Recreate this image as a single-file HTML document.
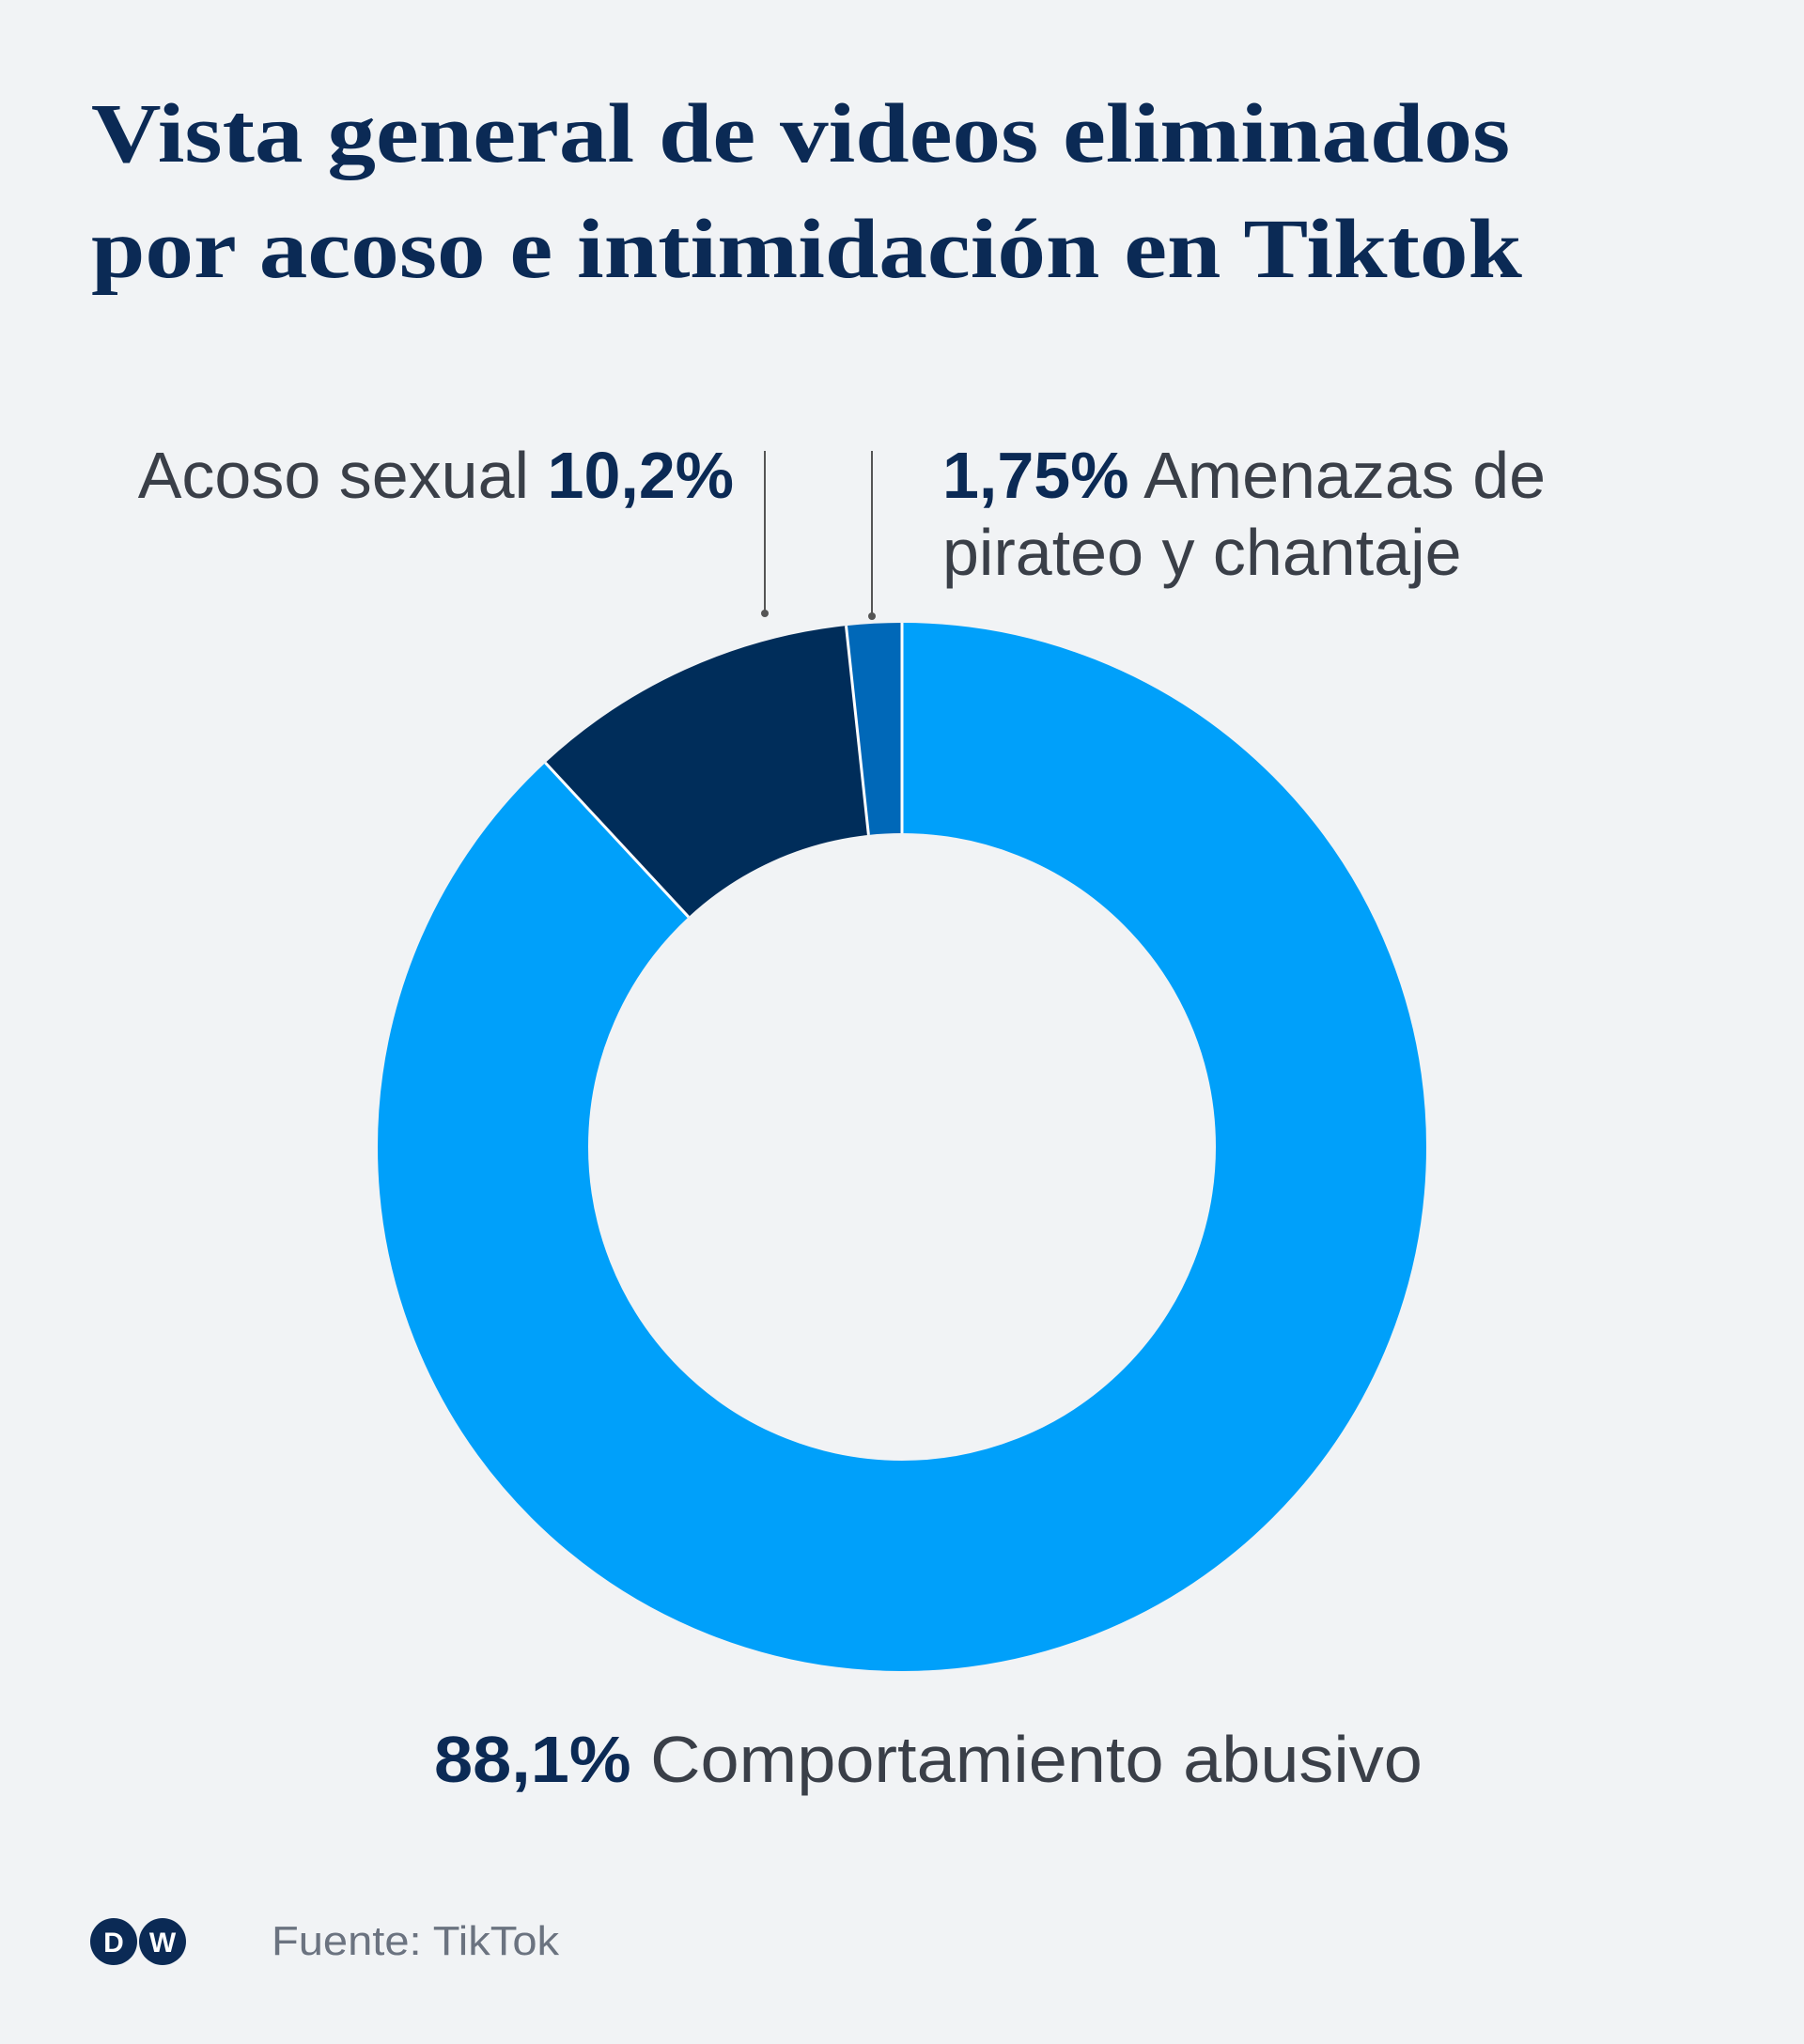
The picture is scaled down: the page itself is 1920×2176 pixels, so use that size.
<!DOCTYPE html>
<html><head><meta charset="utf-8"><style>
html,body{margin:0;padding:0;background:#f1f3f5;}
body{width:1920px;height:2176px;position:relative;overflow:hidden;}
.t{position:absolute;left:97px;font-family:"Liberation Serif",serif;font-weight:bold;font-size:90px;color:#0b2a55;white-space:nowrap;line-height:1;transform:scaleX(1.147);transform-origin:0 0;}
.l{position:absolute;font-family:"Liberation Sans",sans-serif;font-size:70px;color:#3a3f48;white-space:nowrap;line-height:1;}
.l b{color:#0b2a55;}
</style></head><body>
<div class="t" style="top:98px">Vista general de videos eliminados</div>
<div class="t" style="top:221px">por acoso e intimidación en Tiktok</div>
<div class="l" style="right:1139px;top:471px">Acoso sexual <b>10,2%</b></div>
<div class="l" style="left:1003px;top:471px"><b>1,75%</b> Amenazas de</div>
<div class="l" style="left:1003px;top:553px">pirateo y chantaje</div>
<div class="l" style="left:462px;top:1838px;transform:scaleX(1.056);transform-origin:0 0"><b>88,1%</b> Comportamiento abusivo</div>
<svg width="1920" height="2176" style="position:absolute;left:0;top:0">
<line x1="814" y1="480" x2="814" y2="652" stroke="#555" stroke-width="2"/>
<circle cx="814" cy="653" r="4" fill="#555"/>
<line x1="928" y1="480" x2="928" y2="655" stroke="#555" stroke-width="2"/>
<circle cx="928" cy="656" r="4" fill="#555"/>
<g transform="rotate(-90 960 1221)" fill="none" stroke-width="224">
<circle cx="960" cy="1221" r="446" stroke="#00a0fa" stroke-dasharray="2468.8 2802.3"/>
<circle cx="960" cy="1221" r="446" stroke="#002d5a" stroke-dasharray="0 2468.8 285.8 2802.3"/>
<circle cx="960" cy="1221" r="446" stroke="#0068b8" stroke-dasharray="0 2754.6 49 2802.3"/>
</g>
<g stroke="#fff" stroke-width="3">
<line x1="960" y1="887" x2="960" y2="663"/>
<line x1="732.8" y1="976.2" x2="580.4" y2="812"/>
<line x1="924.4" y1="888.9" x2="900.5" y2="666.2"/>
</g>
<circle cx="121" cy="2067" r="25" fill="#0b2a55"/>
<circle cx="173" cy="2067" r="25" fill="#0b2a55"/>
<text x="121" y="2078" font-family="Liberation Sans" font-weight="bold" font-size="30" fill="#fff" text-anchor="middle">D</text>
<text x="173" y="2078" font-family="Liberation Sans" font-weight="bold" font-size="30" fill="#fff" text-anchor="middle">W</text>
<text x="289" y="2081" font-family="Liberation Sans" font-size="44" fill="#6b7380" transform="translate(289 0) scale(1.07 1) translate(-289 0)">Fuente: TikTok</text>
</svg>
</body></html>
